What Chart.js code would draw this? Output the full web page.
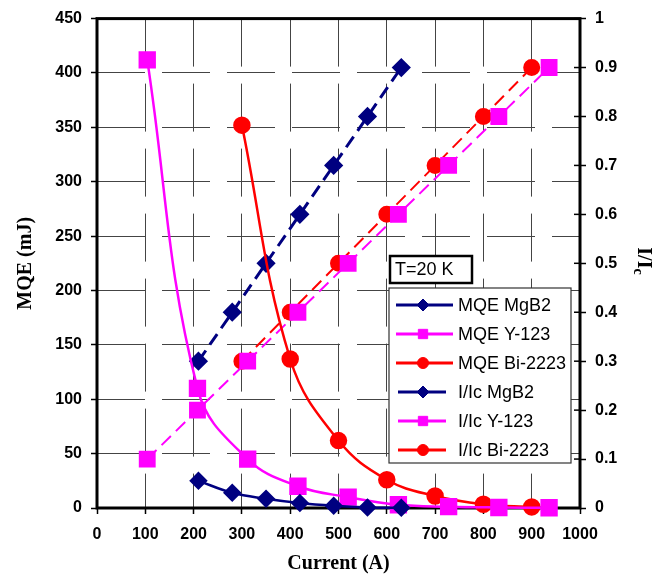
<!DOCTYPE html>
<html>
<head>
<meta charset="utf-8">
<script src="https://cdn.jsdelivr.net/npm/chart.js@4/dist/chart.umd.min.js"></script>
<style>
  html, body { margin: 0; padding: 0; background: #fff; }
  canvas { display: block; }
</style>
</head>
<body>
<canvas id="myChart" width="663" height="576"></canvas>
<script>
const ctx = document.querySelector('#myChart');

// current (A) for each conductor
const currentMgB2 = [210, 280, 350, 420, 490, 560, 630]
const currentY123 = [104, 208, 312, 416, 520, 624, 728, 832, 936]
const currentBi2223 = [300, 400, 500, 600, 700, 800, 900]

// MQE (mJ), left axis
const mqeMgB2 = [25, 14, 8.5, 4.5, 2, 0.5, 0.2]
const mqeY123 = [412, 110, 45, 20, 10, 3, 1.2, 0.5, 0.2]
const mqeBi2223 = [352, 137, 62, 26, 11, 3.5, 1]

// I/Ic, right axis
const ratioMgB2 = [0.3, 0.4, 0.5, 0.6, 0.7, 0.8, 0.9]
const ratioY123 = [0.1, 0.2, 0.3, 0.4, 0.5, 0.6, 0.7, 0.8, 0.9]
const ratioBi2223 = [0.3, 0.4, 0.5, 0.6, 0.7, 0.8, 0.9]

const seriesNames = ['MQE MgB2', 'MQE Y-123', 'MQE Bi-2223', 'I/Ic MgB2', 'I/Ic Y-123', 'I/Ic Bi-2223']
const xTicks = [0, 100, 200, 300, 400, 500, 600, 700, 800, 900, 1000]

const navy = '#000080'
const magenta = '#ff00ff'
const red = '#ff0000'

const pts = (xs, ys) => xs.map((x, i) => ({ x: x, y: ys[i] }))

function mqeSet(name, xs, ys, color, style, r) {
  return {
    label: name, data: pts(xs, ys), yAxisID: 'y',
    borderColor: color, backgroundColor: color, borderWidth: 2.5,
    pointStyle: style, pointRadius: r, pointHoverRadius: r,
    tension: 0.4, clip: false
  }
}

function ratioSet(name, xs, ys, color, style, r, w) {
  return {
    label: name, data: pts(xs, ys), yAxisID: 'y1',
    borderColor: color, backgroundColor: color, borderWidth: w,
    borderDash: [13, 7],
    pointStyle: style, pointRadius: r, pointHoverRadius: r,
    tension: 0, clip: false
  }
}

const data = {
  datasets: [
    mqeSet(seriesNames[0], currentMgB2, mqeMgB2, navy, 'rectRot', 7.5),
    mqeSet(seriesNames[1], currentY123, mqeY123, magenta, 'rect', 10.5),
    mqeSet(seriesNames[2], currentBi2223, mqeBi2223, red, 'circle', 7.5),
    ratioSet(seriesNames[3], currentMgB2, ratioMgB2, navy, 'rectRot', 7.5, 3),
    ratioSet(seriesNames[4], currentY123, ratioY123, magenta, 'rect', 10.5, 2),
    ratioSet(seriesNames[5], currentBi2223, ratioBi2223, red, 'circle', 7.5, 2)
  ]
};

const tickFont = { family: '"Liberation Sans", Arial, sans-serif', size: 16, weight: 'bold' }
const titleFont = { family: '"Liberation Serif", "Times New Roman", serif', size: 20, weight: 'bold' }
const gridStyle = { color: '#444', lineWidth: 1, tickLength: 6, tickColor: '#000', tickWidth: 1.5 }
// in v4 the grid line dash lives under border
const dashedBorder = { display: false, dash: [48, 17] }

// frame, inner ticks on the right axis, legend, T box, right title
const extras = {
  id: 'extras',
  beforeDatasetsDraw(chart) {
    const c = chart.ctx
    const a = chart.chartArea
    c.save()
    c.strokeStyle = '#000'
    c.lineWidth = 1.5
    const y1 = chart.scales.y1
    y1.ticks.forEach(t => {
      const py = y1.getPixelForValue(t.value)
      c.beginPath(); c.moveTo(a.right - 6, py); c.lineTo(a.right, py); c.stroke()
    })
    c.lineWidth = 3
    c.strokeRect(a.left, a.top, a.right - a.left, a.bottom - a.top)
    c.restore()
  },
  afterDraw(chart) {
    const c = chart.ctx
    c.save()

    // T=20 K box
    c.fillStyle = '#fff'
    c.fillRect(390, 256, 82, 27)
    c.strokeStyle = '#000'
    c.lineWidth = 2.5
    c.strokeRect(390, 256, 82, 27)
    c.fillStyle = '#000'
    c.font = '18px "Liberation Sans", Arial, sans-serif'
    c.textBaseline = 'middle'
    c.textAlign = 'left'
    c.fillText('T=20 K', 395, 270)

    // legend
    c.fillStyle = '#fff'
    c.fillRect(389, 288, 182, 175)
    c.strokeStyle = '#333'
    c.lineWidth = 1.2
    c.strokeRect(389, 288, 182, 175)
    const legendR = [6, 6.6, 5.5]
    chart.data.datasets.forEach((ds, i) => {
      const y = 305 + i * 29
      const x1 = i < 3 ? 396 : 398
      const x2 = i < 3 ? 453 : 446
      c.strokeStyle = ds.borderColor
      c.fillStyle = ds.backgroundColor
      c.lineWidth = 3
      c.setLineDash([])
      c.beginPath(); c.moveTo(x1, y); c.lineTo(x2, y); c.stroke()
      c.lineWidth = 1
      Chart.helpers.drawPoint(c, { pointStyle: ds.pointStyle, radius: legendR[i % 3], rotation: 0, borderWidth: 1 }, 423, y)
      c.fillStyle = '#000'
      c.fillText(ds.label, 458, y + 1)
    })

    // right axis title I/Ic, rotated clockwise
    c.translate(643, 261)
    c.rotate(Math.PI / 2)
    c.font = 'bold 20px "Liberation Serif", "Times New Roman", serif'
    const main = 'I/I'
    const w1 = c.measureText(main).width
    c.font = 'bold 14px "Liberation Serif", "Times New Roman", serif'
    const w2 = c.measureText('c').width
    const start = -(w1 + w2) / 2
    c.font = 'bold 20px "Liberation Serif", "Times New Roman", serif'
    c.fillText(main, start, 0)
    c.font = 'bold 14px "Liberation Serif", "Times New Roman", serif'
    c.fillText('c', start + w1, 5)
    c.restore()
  }
}

const config = {
  type: 'line',
  data: data,
  options: {
    responsive: false,
    animation: false,
    events: [],
    layout: { padding: { top: 15, left: 0, right: 0, bottom: 0 } },
    plugins: {
      legend: { display: false },
      tooltip: { enabled: false }
    },
    scales: {
      x: {
        type: 'linear',
        min: 0, max: 1000,
        afterBuildTicks: scale => { scale.ticks = xTicks.map(v => ({ value: v })) },
        afterFit: scale => { scale.height = 68 },
        grid: gridStyle,
        border: dashedBorder,
        ticks: { font: tickFont, color: '#000', padding: 11, maxRotation: 0, callback: v => String(v) },
        title: { display: true, text: 'Current (A)', font: titleFont, color: '#000', padding: { top: 0, bottom: 0 } }
      },
      y: {
        position: 'left',
        min: 0, max: 450,
        ticks: { stepSize: 50, font: tickFont, color: '#000', padding: 9 },
        afterFit: scale => { scale.width = 97 },
        grid: gridStyle,
        border: dashedBorder,
        title: { display: true, text: 'MQE (mJ)', font: titleFont, color: '#000', padding: { top: 14, bottom: 0 } }
      },
      y1: {
        position: 'right',
        min: 0, max: 1,
        ticks: {
          stepSize: 0.1, font: tickFont, color: '#000', padding: 9,
          callback: v => String(Math.round(v * 10) / 10)
        },
        afterFit: scale => { scale.width = 83 },
        grid: { drawOnChartArea: false, tickLength: 6, tickColor: '#000', tickWidth: 1.5 },
        border: { display: false }
      }
    }
  },
  plugins: [extras]
};

const myChart = new Chart(ctx, config)
</script>
</body>
</html>
